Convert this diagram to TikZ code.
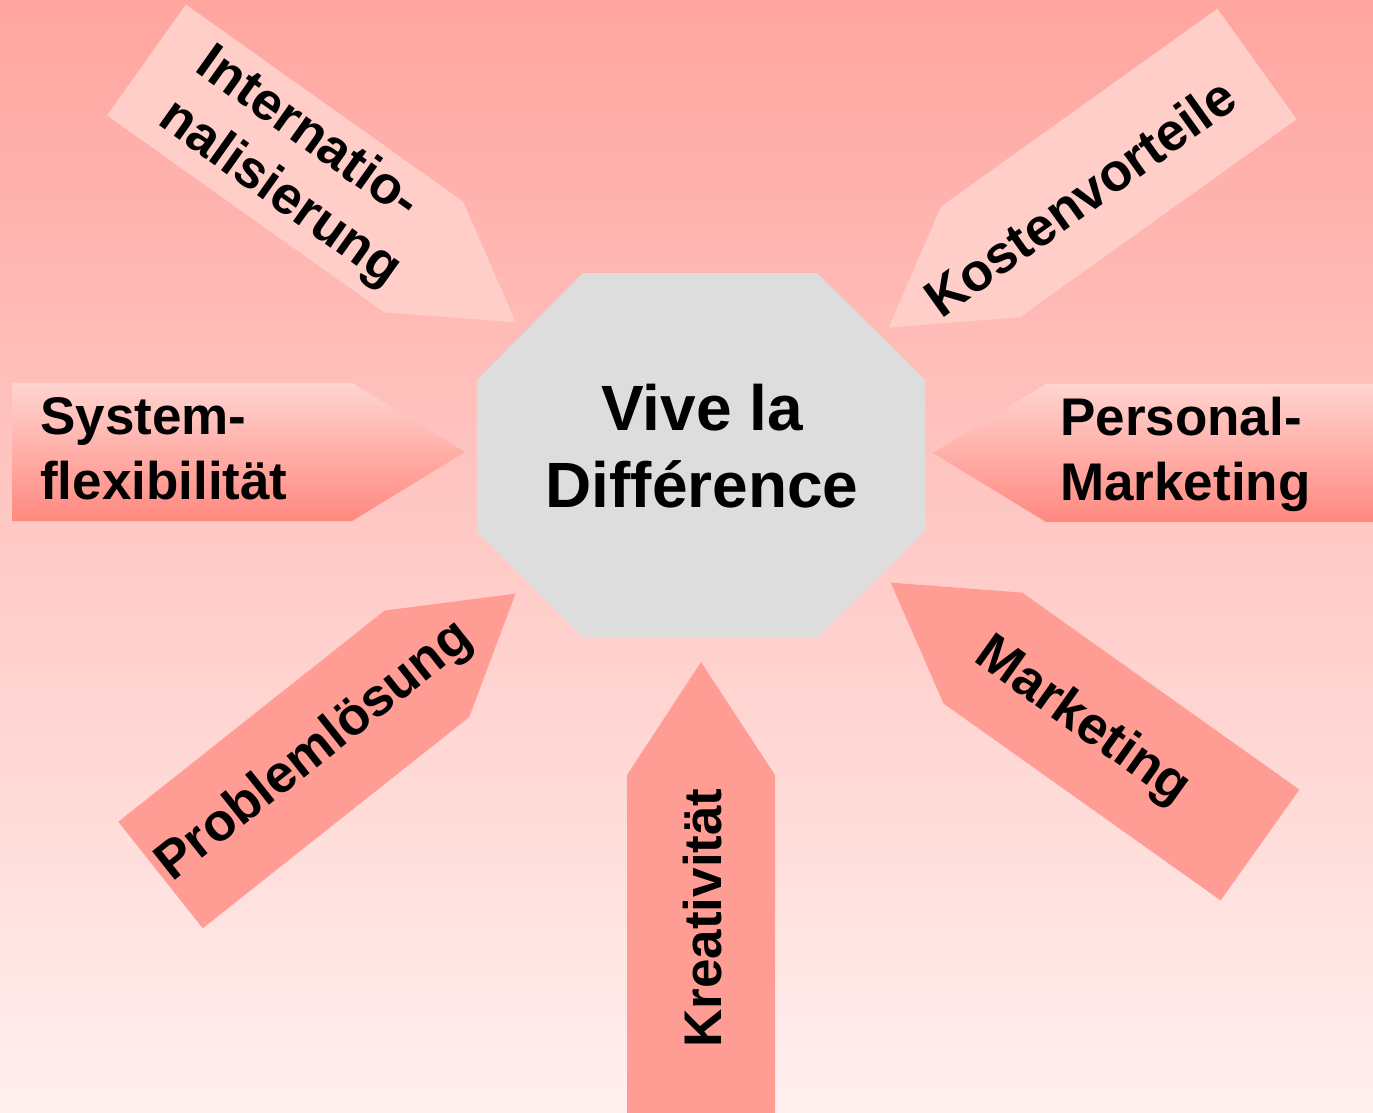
\documentclass[tikz,border=0pt]{standalone}
\usepackage{fontspec}
\setmainfont{Liberation Sans}
\usetikzlibrary{positioning}

\definecolor{bgtop}{RGB}{255,165,159}
\definecolor{bgbottom}{RGB}{255,240,239}
\definecolor{lightpink}{RGB}{255,206,201}
\definecolor{darkpink}{RGB}{255,157,149}
\definecolor{gradtop}{RGB}{255,212,208}
\definecolor{gradbottom}{RGB}{255,137,128}
\definecolor{octgray}{RGB}{221,221,221}

\begin{document}
\begin{tikzpicture}[x=1pt, y=-1pt,
    pfeil/.pic={\path[pic actions] (0,-#1) -- (340,-#1) -- (453,0) -- (340,#1) -- (0,#1) -- cycle;},
    hell/.style={fill=lightpink},
    dunkel/.style={fill=darkpink},
    verlauf/.style={top color=gradtop, bottom color=gradbottom},
    label/.style={font=\fontsize{53}{65}\selectfont\bfseries, inner sep=0pt},
    title/.style={font=\fontsize{64}{77}\selectfont\bfseries, inner sep=0pt}
]
    \useasboundingbox (0,0) rectangle (1373,1112);
    \shade[top color=bgtop, bottom color=bgbottom] (0,0) rectangle (1373,1112);

    % arrows
    \pic[hell, rotate=-35.4] at (146.5,60) {pfeil=68};
    \pic[hell, rotate=215.6] at (1257,64) {pfeil=68};
    \pic[verlauf] at (12,452) {pfeil=69};
    \pic[verlauf, xscale=-1] at (1386,453) {pfeil=69};
    \pic[dunkel, rotate=38.4] at (160.5,875) {pfeil=68};
    \pic[dunkel, rotate=144.6] at (1260,845) {pfeil=68};
    \pic[dunkel, rotate=90] at (701,1115) {pfeil=74};

    % center
    \fill[octgray] (583,273) -- (817,273) -- (925,380) -- (925,531)
        -- (817,638) -- (583,638) -- (477,531) -- (477,380) -- cycle;
    \node[title, align=center, anchor=base] (vive) at (702,507) {Vive la\\Différence};

    \node[label, rotate=-35.4, align=left] (intern) at (298,168) {Internatio-\\nalisierung};
    \node[label, rotate=35.6] (kosten) at (1080,197) {Kostenvorteile};
    \node[label, anchor=base west, align=left] (system) at (40,499) {System-\\flexibilität};
    \node[label, anchor=base west, align=left] (personal) at (1060,500) {Personal-\\Marketing};
    \node[label, rotate=38.4] (problem) at (315,752) {Problemlösung};
    \node[label, rotate=-35.4] (marketing) at (1082,722) {Marketing};
    \node[label, rotate=90] (kreativ) at (703,918) {Kreativität};
\end{tikzpicture}
\end{document}
